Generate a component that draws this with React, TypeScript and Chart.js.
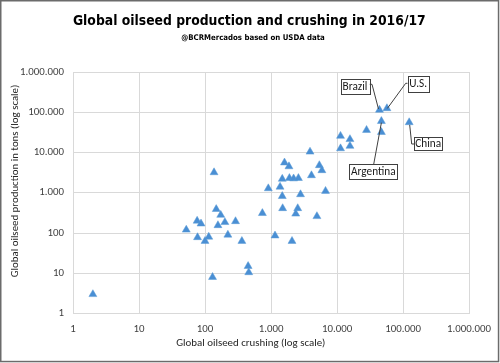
import React, { useEffect, useRef } from 'react';
import { Chart, registerables } from 'chart.js';

Chart.register(...registerables);

// ---- Data ----
// First four entries are the labelled countries.
const labeledNames = ['Brazil', 'U.S.', 'Argentina', 'China'];

const crushing = [
  44000, 57000, 47000, 124000, 47000, 28000, 11300, 15700, 11300, 15700,
  3900, 1600, 1870, 5400, 5900, 1480, 1900, 2200, 2600, 4100,
  910, 1370, 6700, 2800, 1480, 1500, 2540, 2370, 740, 4960,
  1150, 2080, 137, 148, 173, 76, 87, 200, 290, 157,
  52, 77, 114, 100, 222, 362, 450, 460, 130, 2,
];

const production = [
  114000, 125000, 60000, 56000, 32000, 36000, 25700, 21300, 12600, 14500,
  10400, 5600, 4500, 4800, 3600, 2200, 2300, 2250, 2300, 2700,
  1280, 1400, 1100, 910, 820, 410, 410, 300, 310, 260,
  86, 63, 3200, 390, 280, 200, 170, 185, 195, 155,
  120, 78, 80, 63, 90, 63, 15, 10.5, 8, 3,
];

const xTicks = [1, 10, 100, 1000, 10000, 100000, 1000000];
const yTicks = [1, 10, 100, 1000, 10000, 100000, 1000000];

const titleText = 'Global oilseed production and crushing in 2016/17';
const subtitleText = '@BCRMercados based on USDA data';
const xTitleText = 'Global oilseed crushing (log scale)';
const yTitleText = 'Global oilseed production in tons (log scale)';

// ---- Layout of the label boxes (pixels) ----
const LABEL_LAYOUT = [
  { idx: 0, box: [340.5, 79, 29, 14.5], anchor: [369.5, 84.3], elbow: [372, 84.3], tip: [-1, -1] },
  { idx: 1, box: [407.7, 76, 20.8, 15.6], anchor: [407.7, 83.3], elbow: [405.7, 83.3], tip: [0.5, 0] },
  { idx: 2, box: [349.3, 164.3, 48, 14.7], anchor: [373.7, 164.3], elbow: null, tip: [0, 1.5] },
  { idx: 3, box: [414, 136.7, 28.3, 13.3], anchor: [414, 144], elbow: [411.7, 144], tip: [0.5, 2.5] },
];

function fmt(v: number) {
  return Math.round(v).toString().replace(/\B(?=(\d{3})+(?!\d))/g, '.');
}

function hasFont(f: string) {
  const c = document.createElement('canvas').getContext('2d')!;
  const s = 'mmmmmmmmlli1WQabc';
  let diff = false;
  for (const base of ['monospace', 'serif']) {
    c.font = `40px ${base}`;
    const a = c.measureText(s).width;
    c.font = `40px "${f}", ${base}`;
    const b = c.measureText(s).width;
    if (a !== b) diff = true;
  }
  return diff;
}

function pick(list: string[]) {
  for (const f of list) if (hasFont(f)) return `"${f}"`;
  return 'sans-serif';
}

function fitSize(text: string, weight: string, family: string, target: number) {
  const c = document.createElement('canvas').getContext('2d')!;
  c.font = `${weight} 100px ${family}`;
  const w = c.measureText(text).width;
  return (100 * target) / w;
}

export default function App() {
  const ref = useRef<HTMLCanvasElement | null>(null);

  useEffect(() => {
    document.body.style.margin = '0';
    const bodyFamily = pick(['Carlito', 'Lato', 'Open Sans', 'Liberation Sans']);
    const titleFamily = pick(['Liberation Sans Narrow', 'DejaVu Sans Condensed', 'Liberation Sans']);

    const tickSize = fitSize('1.000.000', 'normal', bodyFamily, 44);
    const axisTitleSize =
      (fitSize(xTitleText, 'normal', bodyFamily, 150) + fitSize(yTitleText, 'normal', bodyFamily, 192)) / 2;
    const titleSize = fitSize(titleText, 'bold', titleFamily, 353);
    const subSize = fitSize(subtitleText, 'bold', titleFamily, 144);
    const labelSize = fitSize('Argentina', 'normal', bodyFamily, 44.5);

    const points = crushing.map((x, i) => ({ x, y: production[i] }));

    const decor = {
      id: 'decor',
      afterDatasetsDraw(chart: any) {
        const ctx = chart.ctx as CanvasRenderingContext2D;
        const xs = chart.scales.x;
        const ys = chart.scales.y;
        ctx.save();
        // leader lines
        ctx.strokeStyle = '#404040';
        ctx.lineWidth = 1;
        for (const l of LABEL_LAYOUT) {
          const px = xs.getPixelForValue(crushing[l.idx]) + l.tip[0];
          const py = ys.getPixelForValue(production[l.idx]) + l.tip[1];
          ctx.beginPath();
          ctx.moveTo(l.anchor[0], l.anchor[1]);
          if (l.elbow) ctx.lineTo(l.elbow[0], l.elbow[1]);
          ctx.lineTo(px, py);
          ctx.stroke();
        }
        // boxes
        for (const l of LABEL_LAYOUT) {
          const [bx, by, bw, bh] = l.box;
          ctx.fillStyle = '#ffffff';
          ctx.fillRect(bx, by, bw, bh);
          ctx.strokeStyle = '#404040';
          ctx.strokeRect(Math.round(bx) + 0.5, Math.round(by) + 0.5, Math.round(bw), Math.round(bh));
          ctx.fillStyle = '#1a1a1a';
          ctx.font = `normal ${labelSize}px ${bodyFamily}`;
          ctx.textAlign = 'center';
          ctx.textBaseline = 'middle';
          ctx.fillText(labeledNames[l.idx], bx + bw / 2, by + bh / 2 + 0.5);
        }
        ctx.restore();
      },
      afterDraw(chart: any) {
        const ctx = chart.ctx as CanvasRenderingContext2D;
        ctx.save();
        ctx.fillStyle = '#000000';
        ctx.textAlign = 'center';
        ctx.textBaseline = 'middle';
        ctx.font = `bold ${titleSize}px ${titleFamily}`;
        ctx.fillText(titleText, 249.3, 21.5);
        ctx.font = `bold ${subSize}px ${titleFamily}`;
        ctx.fillText(subtitleText, 253, 37.5);
        ctx.fillStyle = '#262626';
        ctx.font = `normal ${axisTitleSize}px ${bodyFamily}`;
        ctx.fillText(xTitleText, 250.8, 343.5);
        ctx.translate(15.5, 181);
        ctx.rotate(-Math.PI / 2);
        ctx.fillText(yTitleText, 0, 0);
        ctx.restore();
        // outer frame
        ctx.save();
        ctx.strokeStyle = '#6b6b6b';
        ctx.lineWidth = 1.5;
        ctx.strokeRect(0.75, 0.75, 497.8, 360.8);
        ctx.restore();
      },
    };

    const chart = new Chart(ref.current!, {
      type: 'scatter',
      data: {
        datasets: [
          {
            data: points,
            pointStyle: 'triangle',
            pointRadius: 4.6,
            pointHoverRadius: 4.6,
            backgroundColor: '#4A8FD4',
            borderColor: '#5B9BD5',
            borderWidth: 0.5,
          },
        ],
      },
      options: {
        animation: false,
        responsive: false,
        maintainAspectRatio: false,
        devicePixelRatio: 1,
        layout: { padding: { top: 72, right: 30.7, bottom: 0, left: 0 } },
        plugins: {
          legend: { display: false },
          tooltip: { enabled: false },
          title: { display: false },
        },
        scales: {
          x: {
            type: 'logarithmic',
            position: 'bottom',
            min: 1,
            max: 1000000,
            afterBuildTicks: (s: any) => {
              s.ticks = xTicks.map((v) => ({ value: v }));
            },
            afterFit: (s: any) => {
              s.height = 363 - 313.5;
            },
            grid: { color: '#d9d9d9', drawTicks: false, lineWidth: 1 },
            border: { color: '#d9d9d9' },
            ticks: {
              autoSkip: false,
              maxRotation: 0,
              minRotation: 0,
              padding: 9,
              color: '#404040',
              font: { family: bodyFamily, size: tickSize },
              callback: (v: any) => fmt(Number(v)),
            },
          },
          y: {
            type: 'logarithmic',
            position: 'left',
            min: 1,
            max: 1000000,
            afterBuildTicks: (s: any) => {
              s.ticks = yTicks.map((v) => ({ value: v }));
            },
            afterFit: (s: any) => {
              s.width = 73;
            },
            grid: { color: '#d9d9d9', drawTicks: false, lineWidth: 1 },
            border: { color: '#d9d9d9' },
            ticks: {
              autoSkip: false,
              padding: 9,
              color: '#404040',
              font: { family: bodyFamily, size: tickSize },
              callback: (v: any) => fmt(Number(v)),
            },
          },
        },
      },
      plugins: [decor],
    } as any);

    return () => chart.destroy();
  }, []);

  return (
    <div style={{ position: 'absolute', left: 0, top: 0, width: 500, height: 363, background: '#ffffff' }}>
      <canvas ref={ref} width={500} height={363} style={{ display: 'block', width: 500, height: 363 }} />
    </div>
  );
}
